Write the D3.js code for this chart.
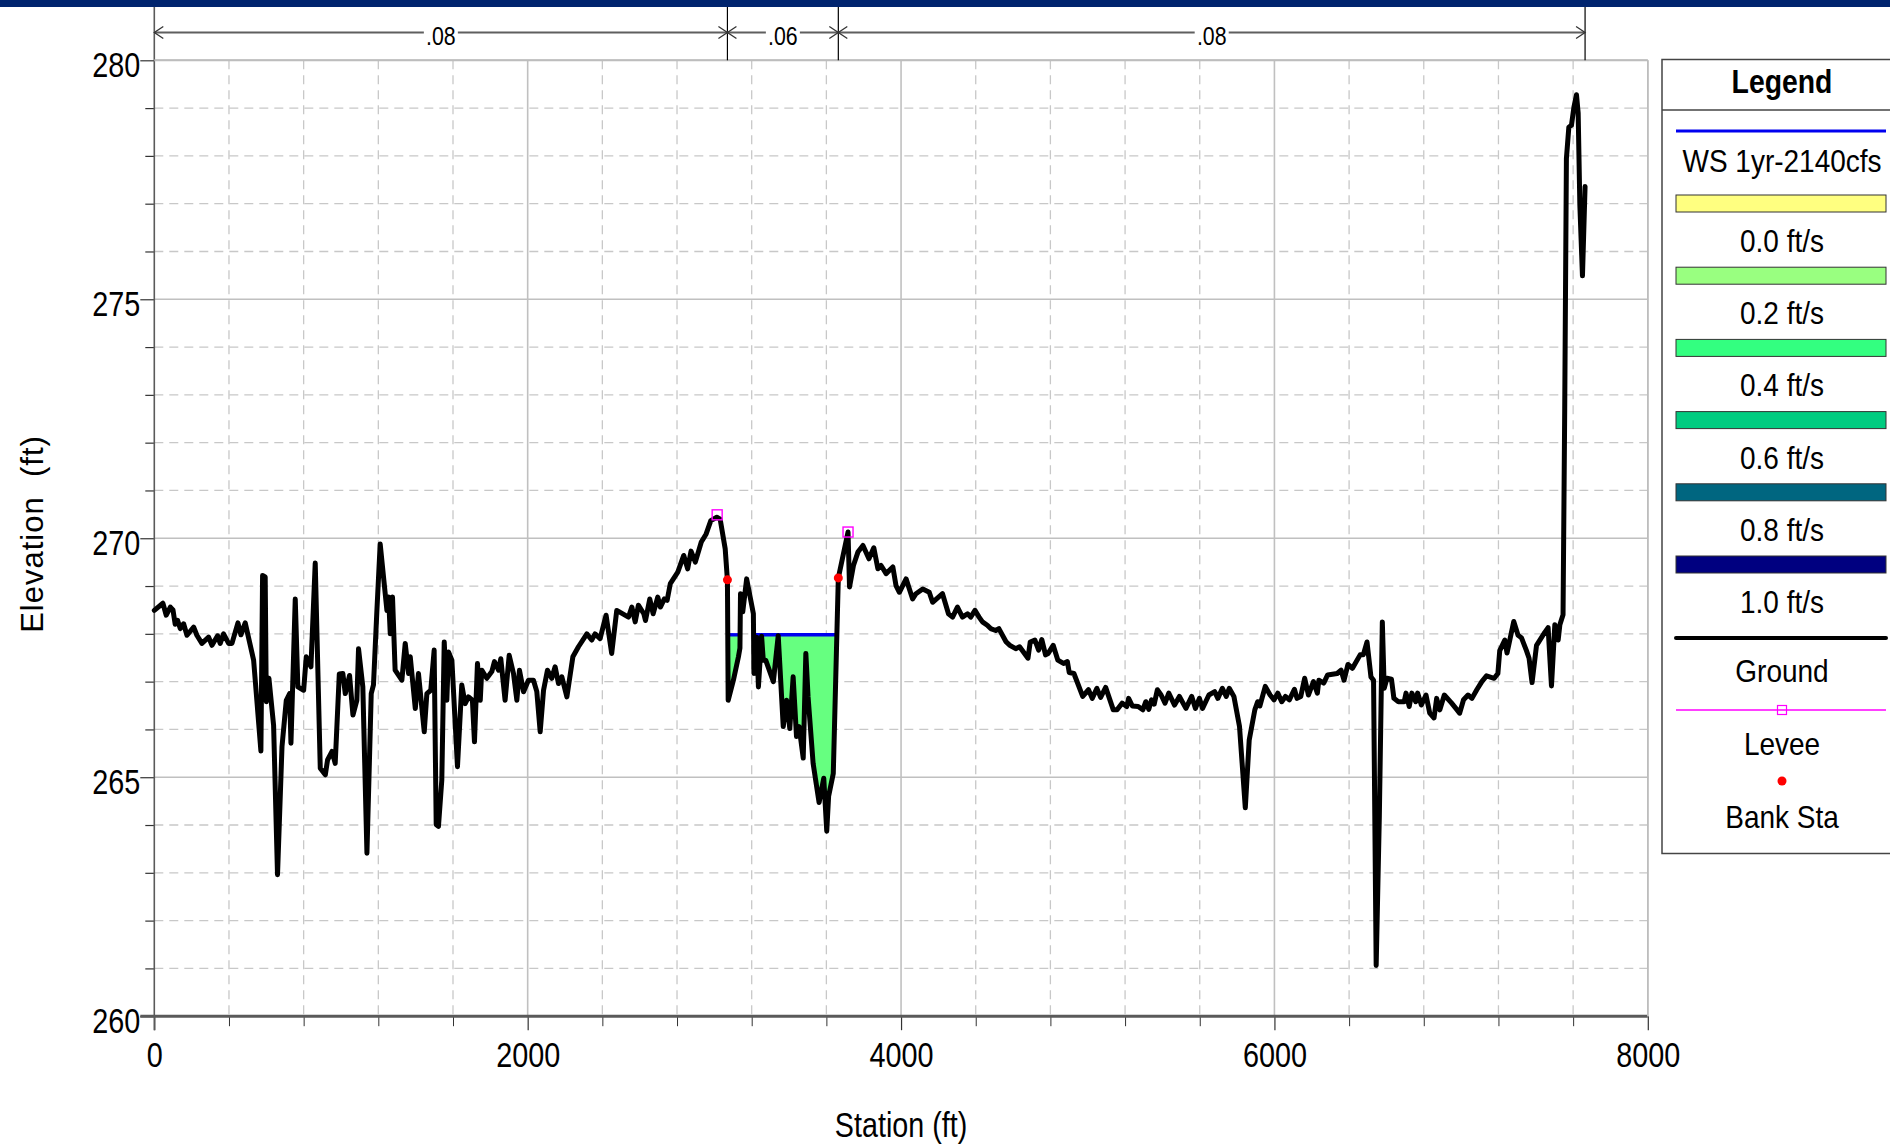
<!DOCTYPE html>
<html>
<head>
<meta charset="utf-8">
<script src="https://cdn.jsdelivr.net/npm/d3@7"></script>
<style>
  body { margin: 0; background: #fff; }
  svg { display: block; }
  text { font-family: "Liberation Sans", Arial, Helvetica, sans-serif; }
</style>
</head>
<body>
<svg id="chart" width="1890" height="1147"></svg>
<script>
// Cross-section ground profile: station (ft) and elevation (ft)
const stations = [
  0, 46, 64, 86, 100, 112, 125, 139, 157, 175, 211, 228, 255, 291, 309, 339, 353, 371, 398, 416,
  448, 464, 487, 532, 571, 580, 594, 600, 614, 639, 660, 684, 707, 725, 732, 755, 769, 800, 814, 839,
  862, 889, 916, 928, 952, 969, 991, 1010, 1023, 1046, 1064, 1085, 1094, 1117, 1139, 1162, 1174, 1192, 1210, 1246,
  1255, 1264, 1276, 1290, 1326, 1344, 1362, 1371, 1398, 1415, 1446, 1460, 1481, 1499, 1510, 1522, 1540, 1553, 1567, 1576,
  1594, 1624, 1647, 1665, 1683, 1704, 1715, 1731, 1746, 1754, 1781, 1808, 1822, 1844, 1856, 1879, 1901, 1924, 1942, 1956,
  1978, 2004, 2031, 2049, 2067, 2085, 2106, 2129, 2147, 2165, 2183, 2210, 2242, 2272, 2317, 2343, 2361, 2388, 2420, 2450,
  2477, 2540, 2558, 2576, 2593, 2622, 2631, 2654, 2672, 2697, 2711, 2732, 2747, 2764, 2804, 2836, 2857, 2875, 2898, 2930,
  2956, 2981, 3013, 3031, 3058, 3070, 3074, 3102, 3129, 3137, 3140, 3152, 3173, 3209, 3212, 3227, 3236, 3253, 3262, 3275,
  3316, 3342, 3369, 3387, 3404, 3422, 3440, 3454, 3476, 3490, 3502, 3529, 3561, 3586, 3602, 3612, 3637, 3664, 3716, 3724,
  3745, 3769, 3796, 3828, 3854, 3876, 3893, 3920, 3956, 3973, 3991, 4027, 4062, 4080, 4116, 4151, 4169, 4222, 4254, 4276,
  4302, 4329, 4356, 4373, 4396, 4418, 4436, 4462, 4480, 4507, 4524, 4563, 4583, 4614, 4635, 4680, 4692, 4717, 4737, 4754,
  4774, 4788, 4815, 4840, 4870, 4891, 4901, 4926, 4973, 5004, 5024, 5049, 5069, 5096, 5137, 5157, 5184, 5209, 5219, 5239,
  5270, 5295, 5311, 5327, 5342, 5356, 5373, 5393, 5414, 5434, 5465, 5491, 5526, 5557, 5577, 5598, 5615, 5649, 5680, 5697,
  5721, 5742, 5758, 5783, 5813, 5844, 5865, 5895, 5910, 5922, 5951, 5977, 5998, 6018, 6039, 6059, 6080, 6107, 6121, 6141,
  6162, 6182, 6209, 6230, 6238, 6264, 6285, 6336, 6357, 6373, 6394, 6418, 6459, 6476, 6496, 6517, 6531, 6545, 6562, 6578,
  6588, 6603, 6627, 6640, 6664, 6695, 6705, 6722, 6736, 6757, 6767, 6787, 6812, 6832, 6855, 6869, 6886, 6910, 6947, 6972,
  6992, 7013, 7037, 7058, 7084, 7111, 7136, 7177, 7197, 7207, 7234, 7246, 7282, 7305, 7323, 7350, 7364, 7380, 7404, 7448,
  7466, 7484, 7502, 7520, 7529, 7546, 7555, 7564, 7577, 7591, 7604, 7618, 7627, 7636, 7650, 7664
];
const elevations = [
  268.49, 268.64, 268.39, 268.56, 268.50, 268.20, 268.28, 268.11, 268.21, 267.97, 268.14, 267.97, 267.80, 267.93, 267.76, 267.96, 267.80, 268.00, 267.80, 267.80,
  268.23, 267.98, 268.23, 267.45, 265.55, 269.22, 269.19, 266.58, 267.07, 266.09, 262.96, 265.64, 266.61, 266.75, 265.71, 268.73, 266.89, 266.82, 267.52, 267.31,
  269.48, 265.19, 265.05, 265.36, 265.54, 265.29, 267.16, 267.17, 266.75, 267.13, 266.30, 266.61, 267.69, 266.89, 263.41, 266.75, 266.93, 268.46, 269.88, 268.49,
  268.77, 268.00, 268.77, 267.24, 267.03, 267.80, 267.17, 267.52, 266.44, 267.17, 265.95, 266.75, 266.82, 267.66, 264.01, 263.97, 264.94, 267.83, 266.61, 267.62,
  267.45, 265.22, 266.93, 266.54, 266.68, 266.61, 265.74, 267.38, 266.61, 267.24, 267.07, 267.21, 267.42, 267.24, 267.48, 266.61, 267.55, 267.17, 266.61, 267.24,
  266.79, 267.03, 267.03, 266.79, 265.95, 266.82, 267.24, 267.07, 267.31, 266.96, 267.10, 266.68, 267.52, 267.73, 268.00, 267.87, 268.00, 267.90, 268.39, 267.59,
  268.49, 268.35, 268.56, 268.25, 268.60, 268.42, 268.28, 268.73, 268.42, 268.77, 268.56, 268.73, 268.70, 269.05, 269.29, 269.64, 269.36, 269.73, 269.50, 269.92,
  270.09, 270.37, 270.44, 270.40, 269.78, 269.12, 266.61, 267.03, 267.52, 267.70, 268.84, 268.46, 269.15, 268.42, 267.17, 267.93, 266.89, 267.95, 267.45, 267.45,
  267.00, 267.96, 266.06, 266.61, 266.02, 267.10, 265.85, 266.06, 265.40, 267.59, 266.68, 265.29, 264.47, 264.98, 263.87, 264.60, 265.08, 269.17, 270.13, 268.98,
  269.43, 269.71, 269.85, 269.57, 269.80, 269.36, 269.43, 269.26, 269.40, 269.01, 268.87, 269.15, 268.73, 268.84, 268.94, 268.87, 268.66, 268.84, 268.42, 268.35,
  268.56, 268.35, 268.42, 268.35, 268.49, 268.35, 268.25, 268.18, 268.11, 268.07, 268.11, 267.83, 267.76, 267.69, 267.73, 267.49, 267.83, 267.87, 267.66, 267.88,
  267.56, 267.59, 267.76, 267.45, 267.38, 267.42, 267.19, 267.17, 266.69, 266.83, 266.65, 266.86, 266.67, 266.88, 266.41, 266.41, 266.55, 266.48, 266.65, 266.49,
  266.48, 266.41, 266.58, 266.42, 266.62, 266.53, 266.83, 266.72, 266.55, 266.76, 266.51, 266.69, 266.44, 266.69, 266.44, 266.65, 266.44, 266.72, 266.79, 266.65,
  266.86, 266.69, 266.86, 266.69, 266.06, 264.36, 265.78, 266.41, 266.58, 266.49, 266.90, 266.72, 266.62, 266.76, 266.58, 266.69, 266.62, 266.84, 266.65, 266.69,
  267.07, 266.72, 267.00, 266.76, 267.03, 266.97, 267.14, 267.17, 267.24, 267.03, 267.36, 267.28, 267.56, 267.56, 267.83, 267.10, 267.03, 261.06, 264.19, 268.25,
  266.86, 267.07, 267.05, 266.65, 266.58, 266.58, 266.76, 266.48, 266.76, 266.58, 266.76, 266.51, 266.72, 266.34, 266.24, 266.65, 266.41, 266.72, 266.56, 266.44,
  266.34, 266.62, 266.72, 266.65, 266.83, 267.00, 267.12, 267.07, 267.17, 267.65, 267.87, 267.60, 268.26, 267.97, 267.92, 267.65, 267.49, 266.98, 267.76, 268.03,
  268.13, 266.91, 268.19, 267.87, 268.19, 268.40, 272.72, 277.94, 278.60, 278.64, 279.01, 279.28, 278.90, 276.98, 275.49, 277.36
];

// Water surface, levees, bank stations
const wsElevation = 267.98;
const leveeStations = [3015, 3716];
const leveeElevations = [270.49, 270.13];
const bankStations = [3070, 3664];
const bankElevations = [269.13, 269.17];

// Manning's n regions
const nBreaks = [0, 3070, 3664, 7664];
const nLabels = [".08", ".06", ".08"];

// Axis ticks
const xMajorTicks = [0, 2000, 4000, 6000, 8000];
const yMajorTicks = [260, 265, 270, 275, 280];
const xMinorTicks = d3.range(0, 8001, 400).filter(v => v % 2000 !== 0);
const yMinorTicks = d3.range(260, 281, 1).filter(v => v % 5 !== 0);

// Velocity legend classes
const velocityLabels = ["0.0 ft/s", "0.2 ft/s", "0.4 ft/s", "0.6 ft/s", "0.8 ft/s", "1.0 ft/s"];
const velocityColors = ["#FFFF80", "#99FF80", "#33FF80", "#00CC80", "#006680", "#000080"];
const channelFill = "#66FF80";

const svg = d3.select("#chart");
const W = 1890, H = 1147;
const NARROW = 0.82; // horizontal squeeze for the condensed lettering
const x = d3.scaleLinear().domain([0, 8000]).range([154.3, 1647.8]);
const y = d3.scaleLinear().domain([260, 280]).range([1016.2, 60.3]);

const ground = stations.map((s, i) => [s, elevations[i]]);

// condensed text placed at (px, py)
function narrowText(parent, px, py, str, size, squeeze, weight) {
  return parent.append("text")
    .attr("transform", `translate(${px},${py}) scale(${squeeze || NARROW},1)`)
    .attr("text-anchor", "middle")
    .attr("font-size", size).attr("font-weight", weight || "normal")
    .attr("fill", "#000").text(str);
}

// Header bar
svg.append("rect").attr("x", 0).attr("y", 0).attr("width", W).attr("height", 7).attr("fill", "#00246E");

// Grid
const grid = svg.append("g");
grid.selectAll(".vminor").data(xMinorTicks).join("line")
  .attr("x1", d => x(d)).attr("x2", d => x(d)).attr("y1", y(280)).attr("y2", y(260))
  .attr("stroke", "#c8c8c8").attr("stroke-width", 1.3).attr("stroke-dasharray", "9,6");
grid.selectAll(".hminor").data(yMinorTicks).join("line")
  .attr("x1", x(0)).attr("x2", x(8000)).attr("y1", d => y(d)).attr("y2", d => y(d))
  .attr("stroke", "#c8c8c8").attr("stroke-width", 1.3).attr("stroke-dasharray", "9,6");
grid.selectAll(".vmajor").data(xMajorTicks.filter(d => d > 0)).join("line")
  .attr("x1", d => x(d)).attr("x2", d => x(d)).attr("y1", y(280)).attr("y2", y(260))
  .attr("stroke", "#c0c0c0").attr("stroke-width", 1.6);
grid.selectAll(".hmajor").data(yMajorTicks.filter(d => d > 260)).join("line")
  .attr("x1", x(0)).attr("x2", x(8000)).attr("y1", d => y(d)).attr("y2", d => y(d))
  .attr("stroke", "#c0c0c0").attr("stroke-width", 1.6);

// Wetted regions of the main channel (ground below water surface)
function wetRegions(pts, ws, lo, hi) {
  const out = [];
  let cur = null;
  for (let i = 0; i < pts.length - 1; i++) {
    const [s0, e0] = pts[i], [s1, e1] = pts[i + 1];
    if (s1 <= lo || s0 >= hi) continue;
    const w0 = e0 < ws, w1 = e1 < ws;
    if (!w0 && w1) {
      const t = (ws - e0) / (e1 - e0);
      cur = [[s0 + t * (s1 - s0), ws], [s1, e1]];
    } else if (w0 && w1) {
      if (!cur) cur = [[s0, e0]];
      cur.push([s1, e1]);
    } else if (w0 && !w1) {
      const t = (ws - e0) / (e1 - e0);
      if (!cur) cur = [[s0, e0]];
      cur.push([s0 + t * (s1 - s0), ws]);
      out.push(cur);
      cur = null;
    }
  }
  if (cur) out.push(cur);
  return out;
}
const regions = wetRegions(ground, wsElevation, bankStations[0], bankStations[1]);
const pathLine = d3.line().x(d => x(d[0])).y(d => y(d[1]));

svg.append("g").selectAll("path").data(regions).join("path")
  .attr("d", d => pathLine(d) + "Z")
  .attr("fill", channelFill).attr("stroke", "none");

svg.append("g").selectAll("line").data(regions).join("line")
  .attr("x1", d => x(d[0][0])).attr("x2", d => x(d[d.length - 1][0]))
  .attr("y1", y(wsElevation)).attr("y2", y(wsElevation))
  .attr("stroke", "#0000F0").attr("stroke-width", 3.4);

// Axes
const axisColor = "#5a5a5a";
const tickSqueeze = 0.8;
const gx = svg.append("g").attr("transform", `translate(0,${y(260)})`);
gx.call(d3.axisBottom(x).tickValues(xMinorTicks).tickSize(10).tickSizeOuter(0).tickFormat(""));
gx.select(".domain").remove();
gx.selectAll(".tick line").attr("stroke", "#333").attr("stroke-width", 1);
const gx2 = svg.append("g").attr("transform", `translate(0,${y(260)})`);
gx2.call(d3.axisBottom(x).tickValues(xMajorTicks).tickSize(14).tickSizeOuter(0).tickFormat(d3.format("d")));
gx2.select(".domain").remove();
gx2.selectAll(".tick line").attr("stroke", "#333").attr("stroke-width", 1.2);
gx2.selectAll(".tick text").attr("font-family", "Liberation Sans, Arial, sans-serif")
  .attr("font-size", 36).attr("fill", "#000")
  .attr("x", 0).attr("y", 0).attr("dy", 0).attr("transform", `translate(0,51) scale(${tickSqueeze},1)`);

const gy = svg.append("g").attr("transform", `translate(${x(0)},0)`);
gy.call(d3.axisLeft(y).tickValues(yMinorTicks).tickSize(9).tickSizeOuter(0).tickFormat(""));
gy.select(".domain").remove();
gy.selectAll(".tick line").attr("stroke", "#333").attr("stroke-width", 1.2);
const gy2 = svg.append("g").attr("transform", `translate(${x(0)},0)`);
gy2.call(d3.axisLeft(y).tickValues(yMajorTicks).tickSize(14).tickSizeOuter(0).tickFormat(d3.format("d")));
gy2.select(".domain").remove();
gy2.selectAll(".tick line").attr("stroke", "#333").attr("stroke-width", 1.2);
gy2.selectAll(".tick text").attr("font-family", "Liberation Sans, Arial, sans-serif")
  .attr("font-size", 36).attr("fill", "#000")
  .attr("x", 0).attr("dy", 0).attr("transform", `translate(-14,16) scale(${tickSqueeze},1)`);

// Frame lines
svg.append("line").attr("x1", x(0) - 14).attr("x2", x(8000)).attr("y1", y(260)).attr("y2", y(260))
  .attr("stroke", axisColor).attr("stroke-width", 3);
svg.append("line").attr("x1", x(0)).attr("x2", x(0)).attr("y1", 7).attr("y2", y(260) + 14)
  .attr("stroke", axisColor).attr("stroke-width", 1.6);
svg.append("line").attr("x1", x(0)).attr("x2", x(8000)).attr("y1", y(280)).attr("y2", y(280))
  .attr("stroke", "#bdbdbd").attr("stroke-width", 2);
svg.append("line").attr("x1", x(8000)).attr("x2", x(8000)).attr("y1", y(280)).attr("y2", y(260))
  .attr("stroke", "#bdbdbd").attr("stroke-width", 1.6);

// Ground profile
svg.append("path").datum(ground).attr("d", pathLine)
  .attr("fill", "none").attr("stroke", "#000").attr("stroke-width", 5)
  .attr("stroke-linejoin", "round").attr("stroke-linecap", "round");

// Levee markers
svg.append("g").selectAll("rect").data(leveeStations).join("rect")
  .attr("x", d => x(d) - 5).attr("y", (d, i) => y(leveeElevations[i]) - 5)
  .attr("width", 10).attr("height", 10)
  .attr("fill", "none").attr("stroke", "#FF00FF").attr("stroke-width", 1.4);

// Bank station markers
svg.append("g").selectAll("circle").data(bankStations).join("circle")
  .attr("cx", d => x(d)).attr("cy", (d, i) => y(bankElevations[i])).attr("r", 4.5)
  .attr("fill", "#FF0000");

// Manning's n header
const nY = 32.5;
const header = svg.append("g");
nBreaks.slice(1).forEach(b => {
  header.append("line").attr("x1", x(b)).attr("x2", x(b)).attr("y1", 7).attr("y2", y(280))
    .attr("stroke", "#000").attr("stroke-width", 1.2);
});
nLabels.forEach((lab, i) => {
  const a = x(nBreaks[i]), b = x(nBreaks[i + 1]);
  const mid = (a + b) / 2;
  const gap = 17;
  header.append("line").attr("x1", a).attr("x2", mid - gap).attr("y1", nY).attr("y2", nY)
    .attr("stroke", "#5f5f5f").attr("stroke-width", 2);
  header.append("line").attr("x1", mid + gap).attr("x2", b).attr("y1", nY).attr("y2", nY)
    .attr("stroke", "#5f5f5f").attr("stroke-width", 2);
  header.append("path").attr("d", `M${a + 9},${nY - 6}L${a},${nY}L${a + 9},${nY + 6}`)
    .attr("fill", "none").attr("stroke", "#333").attr("stroke-width", 1.3);
  header.append("path").attr("d", `M${b - 9},${nY - 6}L${b},${nY}L${b - 9},${nY + 6}`)
    .attr("fill", "none").attr("stroke", "#333").attr("stroke-width", 1.3);
  narrowText(header, mid, nY + 12, lab, 26);
});

// Axis titles
narrowText(svg, x(4000), 1137, "Station (ft)", 35);
svg.append("text").attr("transform", "translate(43,534) rotate(-90)")
  .attr("text-anchor", "middle").attr("font-size", 31).attr("letter-spacing", 1)
  .style("white-space", "pre").attr("fill", "#000").text("Elevation  (ft)");

// Legend
const lg = svg.append("g");
const lx0 = 1662, lx1 = 1676, lx2 = 1886, lcx = 1782;
const lgSize = 32, lgSqueeze = 0.875;
lg.append("rect").attr("x", lx0).attr("y", 59.5).attr("width", 260).attr("height", 794)
  .attr("fill", "#fff").attr("stroke", "#444").attr("stroke-width", 1.5);
lg.append("line").attr("x1", lx0).attr("x2", W).attr("y1", 110).attr("y2", 110)
  .attr("stroke", "#444").attr("stroke-width", 1.5);
narrowText(lg, lcx, 93, "Legend", 33, 0.86, "bold");

lg.append("line").attr("x1", lx1).attr("x2", lx2).attr("y1", 131).attr("y2", 131)
  .attr("stroke", "#0000F0").attr("stroke-width", 3);
narrowText(lg, lcx, 172, "WS 1yr-2140cfs", lgSize, lgSqueeze);

velocityLabels.forEach((lab, i) => {
  const top = 195 + i * 72.2;
  lg.append("rect").attr("x", lx1).attr("y", top).attr("width", lx2 - lx1).attr("height", 17)
    .attr("fill", velocityColors[i]).attr("stroke", "#333").attr("stroke-width", 1);
  narrowText(lg, lcx, top + 57, lab, lgSize, lgSqueeze);
});

lg.append("line").attr("x1", lx1).attr("x2", lx2).attr("y1", 638).attr("y2", 638)
  .attr("stroke", "#000").attr("stroke-width", 4).attr("stroke-linecap", "round");
narrowText(lg, lcx, 682, "Ground", lgSize, lgSqueeze);

lg.append("line").attr("x1", lx1).attr("x2", lx2).attr("y1", 710).attr("y2", 710)
  .attr("stroke", "#FF00FF").attr("stroke-width", 1.4);
lg.append("rect").attr("x", lcx - 4.5).attr("y", 705.5).attr("width", 9).attr("height", 9)
  .attr("fill", "none").attr("stroke", "#FF00FF").attr("stroke-width", 1.2);
narrowText(lg, lcx, 755, "Levee", lgSize, lgSqueeze);

lg.append("circle").attr("cx", lcx).attr("cy", 781).attr("r", 4.5).attr("fill", "#FF0000");
narrowText(lg, lcx, 828, "Bank Sta", lgSize, lgSqueeze);
</script>
</body>
</html>
